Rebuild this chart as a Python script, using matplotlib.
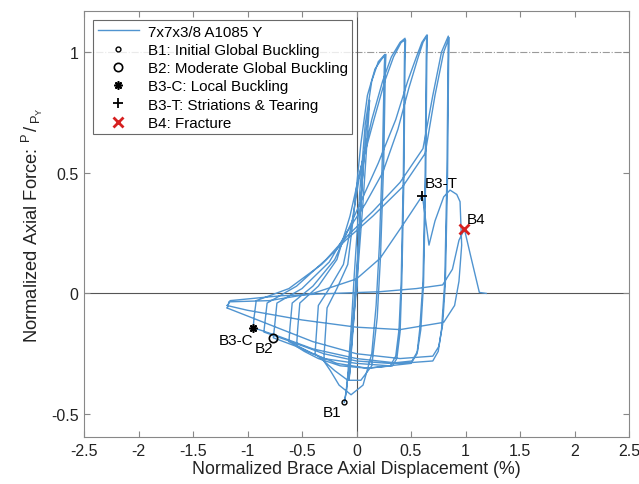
import matplotlib.pyplot as plt

plt.rcParams['font.family'] = ['Liberation Sans', 'DejaVu Sans']
plt.rcParams['mathtext.fontset'] = 'custom'
plt.rcParams['mathtext.rm'] = 'Liberation Sans'
plt.rcParams['mathtext.it'] = 'Liberation Sans'

# Hysteresis path, one line per half-cycle
disp = [
    0.00, 0.03, 0.06, 0.07, 0.05, 0.00, -0.04, -0.07, -0.06, -0.03,
    0.01, 0.05, 0.09, 0.12, 0.11, 0.06, 0.00, -0.06, -0.10, -0.112, -0.09, -0.05,
    -0.02, 0.03, 0.08, 0.14, 0.20, 0.26,
    0.255, 0.24, 0.21, 0.18, 0.14, 0.06, -0.05, -0.16, -0.24, -0.30,
    -0.29, -0.27, -0.18, -0.08, -0.02, 0.04, 0.10, 0.17, 0.23, 0.27,
    0.265, 0.25, 0.22, 0.19, 0.14, 0.04, -0.08, -0.20, -0.30, -0.38,
    -0.37, -0.35, -0.25, -0.12, -0.04, 0.04, 0.14, 0.24, 0.32, 0.40, 0.445,
    0.44, 0.43, 0.41, 0.39, 0.36, 0.31, 0.10, -0.15, -0.35, -0.48, -0.55,
    -0.54, -0.52, -0.35, -0.18, -0.06, 0.04, 0.16, 0.26, 0.34, 0.41, 0.45,
    0.445, 0.435, 0.415, 0.40, 0.37, 0.33, 0.10, -0.18, -0.40, -0.53, -0.62,
    -0.61, -0.59, -0.40, -0.20, -0.06, 0.06, 0.20, 0.36, 0.47, 0.55, 0.60, 0.644,
    0.64, 0.63, 0.61, 0.58, 0.555, 0.50, 0.30, 0.00, -0.30, -0.55, -0.763,
    -0.75, -0.73, -0.50, -0.25, -0.08, 0.08, 0.24, 0.38, 0.48, 0.56, 0.61, 0.65,
    0.645, 0.635, 0.615, 0.59, 0.56, 0.51, 0.30, 0.00, -0.30, -0.60, -0.85,
    -0.84, -0.82, -0.55, -0.28, -0.08, 0.15, 0.40, 0.61, 0.70, 0.78, 0.842,
    0.84, 0.83, 0.81, 0.78, 0.75, 0.70, 0.40, 0.00, -0.40, -0.70, -0.947,
    -0.94, -0.92, -0.62, -0.32, -0.10, 0.15, 0.42, 0.63, 0.72, 0.80, 0.85,
    0.845, 0.835, 0.815, 0.79, 0.755, 0.70, 0.40, 0.00, -0.40, -0.85, -1.19,
    -1.185, -1.17, -0.80, -0.40, 0.00, 0.216, 0.45, 0.604,
    0.665, 0.72, 0.80, 0.858, 0.92, 0.95, 0.965, 0.94, 0.90, 0.80, 0.40, 0.00, -0.50, -1.00, -1.19,
    -1.18, -1.16, -0.70, -0.20, 0.216, 0.55, 0.79, 0.88, 0.94, 0.99, 1.05, 1.127, 1.19,
]
force = [
    0.00, 0.30, 0.52, 0.58, 0.45, 0.05, -0.20, -0.36, -0.33, -0.10,
    0.15, 0.45, 0.68, 0.80, 0.72, 0.38, 0.02, -0.28, -0.42, -0.452, -0.40, -0.15,
    0.08, 0.42, 0.70, 0.88, 0.96, 0.99,
    0.94, 0.60, 0.20, -0.05, -0.25, -0.38, -0.42, -0.38, -0.32, -0.28,
    -0.20, -0.06, 0.02, 0.12, 0.35, 0.62, 0.82, 0.93, 0.97, 0.99,
    0.94, 0.55, 0.15, -0.10, -0.30, -0.36, -0.36, -0.32, -0.28, -0.25,
    -0.18, -0.05, 0.02, 0.12, 0.30, 0.52, 0.72, 0.88, 0.98, 1.04, 1.057,
    0.98, 0.50, 0.05, -0.15, -0.26, -0.30, -0.31, -0.30, -0.27, -0.24, -0.22,
    -0.15, -0.04, 0.03, 0.14, 0.32, 0.52, 0.72, 0.88, 0.98, 1.04, 1.05,
    0.96, 0.48, 0.04, -0.16, -0.27, -0.30, -0.31, -0.29, -0.25, -0.22, -0.20,
    -0.14, -0.04, 0.03, 0.14, 0.28, 0.40, 0.54, 0.72, 0.88, 0.98, 1.04, 1.07,
    0.98, 0.50, 0.05, -0.15, -0.25, -0.29, -0.30, -0.29, -0.27, -0.22, -0.184,
    -0.13, -0.04, 0.02, 0.13, 0.26, 0.37, 0.50, 0.68, 0.85, 0.97, 1.04, 1.07,
    0.96, 0.48, 0.04, -0.15, -0.24, -0.28, -0.29, -0.28, -0.25, -0.20, -0.16,
    -0.12, -0.04, 0.03, 0.14, 0.24, 0.34, 0.46, 0.60, 0.82, 1.00, 1.066,
    0.98, 0.50, 0.05, -0.15, -0.24, -0.28, -0.29, -0.27, -0.23, -0.18, -0.142,
    -0.10, -0.03, 0.02, 0.12, 0.22, 0.32, 0.44, 0.58, 0.82, 1.00, 1.06,
    0.96, 0.48, 0.04, -0.13, -0.22, -0.26, -0.27, -0.25, -0.20, -0.12, -0.06,
    -0.06, -0.035, -0.03, 0.00, 0.06, 0.145, 0.30, 0.405,
    0.20, 0.30, 0.40, 0.428, 0.41, 0.38, 0.20, 0.05, -0.05, -0.12, -0.15, -0.14, -0.11, -0.07, -0.05,
    -0.05, -0.03, -0.01, 0.00, 0.007, 0.02, 0.035, 0.10, 0.22, 0.266, 0.15, 0.004, 0.00,
]

# damage states
b1 = (-0.112, -0.452)
b2 = (-0.763, -0.184)
b3c = (-0.947, -0.142)
b3t = (0.604, 0.405)
b4 = (0.99, 0.266)

xticks = [-2.5, -2, -1.5, -1, -0.5, 0, 0.5, 1, 1.5, 2, 2.5]
yticks = [-0.5, 0, 0.5, 1]

fig = plt.figure(figsize=(6.39, 4.85), dpi=100)
ax = fig.add_axes([84 / 639, 47 / 485, 545 / 639, 426 / 485])

blue = '#5094d0'
ax.axhline(1, color='#9a9a9a', lw=0.8, ls='-.', zorder=1)
ax.axhline(0, color='#555555', lw=0.8, zorder=1)
ax.axvline(0, color='#555555', lw=0.8, zorder=1)

ax.plot(disp, force, color=blue, lw=1.0, label='7x7x3/8 A1085 Y', zorder=2)
ax.plot(*b1, 'o', ms=3.5, mfc='none', mec='black', mew=1.0, ls='none',
        label='B1: Initial Global Buckling', zorder=3)
ax.plot(*b2, 'o', ms=6, mfc='none', mec='black', mew=1.2, ls='none',
        label='B2: Moderate Global Buckling', zorder=3)
ax.plot(*b3c, marker=(8, 2, 0), ms=6, color='black', mew=1.2, ls='none',
        label='B3-C: Local Buckling', zorder=3)
ax.plot(*b3t, '+', ms=7, color='black', mew=1.3, ls='none',
        label='B3-T: Striations & Tearing', zorder=3)
ax.plot(*b4, 'x', ms=7, color='#d62020', mew=2.0, ls='none',
        label='B4: Fracture', zorder=3)

ax.text(-0.14, -0.49, 'B1', ha='right', va='center', fontsize=11)
ax.text(-0.93, -0.228, 'B2', ha='left', va='center', fontsize=11)
ax.text(-0.95, -0.193, 'B3-C', ha='right', va='center', fontsize=11)
ax.text(0.628, 0.456, 'B3-T', ha='left', va='center', fontsize=11)
ax.text(1.014, 0.31, 'B4', ha='left', va='center', fontsize=11)

ax.set_xlim(-2.5, 2.5)
ax.set_ylim(-0.595, 1.17)
ax.set_xticks(xticks)
ax.set_xticklabels(['-2.5', '-2', '-1.5', '-1', '-0.5', '0', '0.5', '1', '1.5', '2', '2.5'])
ax.set_yticks(yticks)
ax.set_yticklabels(['-0.5', '0', '0.5', '1'])
ax.tick_params(direction='in', top=True, right=True, length=4, labelsize=11.5,
               color='#888888', labelcolor='#222222', pad=4)
for s in ax.spines.values():
    s.set_color('#888888')
    s.set_linewidth(0.8)

ax.set_xlabel('Normalized Brace Axial Displacement (%)', fontsize=12.8, color='#222222', labelpad=2)
ax.set_ylabel(r'Normalized Axial Force: ${}^{P}\,/_{\,P_{Y}}$', fontsize=13.2,
              color='#222222', labelpad=4)

leg = ax.legend(loc='upper left', fontsize=10.9, frameon=True, fancybox=False,
                edgecolor='#444444', borderpad=0.3, labelspacing=0.28,
                handlelength=2.7, handletextpad=0.6, borderaxespad=0.6)
leg.get_frame().set_linewidth(0.8)

fig.savefig('out.png', dpi=100)
